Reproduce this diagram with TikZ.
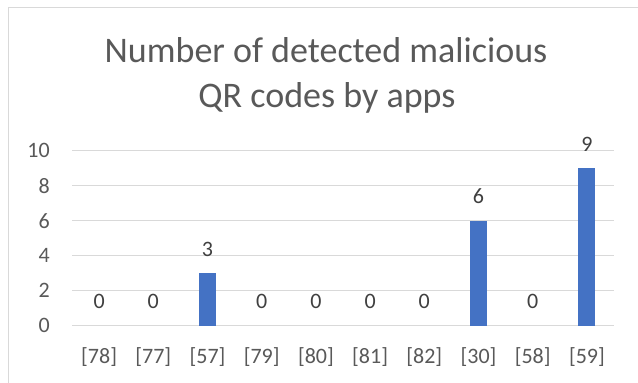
\documentclass[tikz,border=0pt]{standalone}
\usepackage{fontspec}
\setmainfont{Carlito}
\definecolor{gridgray}{HTML}{D9D9D9}
\definecolor{labelgray}{HTML}{595959}
\definecolor{datagray}{HTML}{404040}
\definecolor{barblue}{HTML}{4472C4}
\begin{document}
\begin{tikzpicture}[x=1pt,y=-1pt,
  gridline/.style={draw=gridgray,line width=1.3pt},
  barbox/.style={fill=barblue,draw=none},
  ticklabel/.style={text=labelgray,font=\fontsize{22}{26}\selectfont,inner sep=0pt},
  catlabel/.style={text=labelgray,font=\fontsize{22}{26}\selectfont,inner sep=0pt,anchor=base},
  datalabel/.style={text=datagray,font=\fontsize{22}{26}\selectfont,inner sep=0pt,anchor=base},
  titletext/.style={text=labelgray,font=\fontsize{36}{44.6}\selectfont,inner sep=0pt,anchor=base,align=center}]
\useasboundingbox (0,0) rectangle (638,383);
\clip (0,0) rectangle (638,383);
\fill[white] (0,0) rectangle (638,383);
\draw[gridgray,line width=1.3pt] (8.5,7.5) rectangle (700,450);
% title
\node[titletext] (title1) at (326,62.7) {Number of detected malicious};
\node[titletext] (title2) at (327,107.3) {QR codes by apps};
% gridlines and y ticks
\foreach \v in {0,2,4,6,8,10}{
  \coordinate (gl\v) at (72,{325.7-17.5*\v});
  \coordinate (gr\v) at (614,{325.7-17.5*\v});
  \draw[gridline] (gl\v) -- (gr\v);
  \node[ticklabel,anchor=east] (yt\v) at (50,{325.7-17.5*\v}) {\v};
}
% bars
\foreach \i/\lab/\val in {0/78/0,1/77/0,2/57/3,3/79/0,4/80/0,5/81/0,6/82/0,7/30/6,8/58/0,9/59/9}{
  \pgfmathsetmacro{\cx}{72+54.2*(\i+0.5)}
  \pgfmathsetmacro{\top}{325.7-17.5*\val}
  \ifnum\val>0
    \fill[barblue] ({\cx-8.5},325.7) rectangle ({\cx+8.5},\top);
  \fi
  \node[draw=none,inner sep=0pt,minimum size=0pt] (bar\lab) at (\cx,\top) {};
  \node[datalabel] (val\lab) at ({\cx},{\top-16.8}) {\val};
  \node[catlabel] (cat\lab) at ({\cx},363.5) {[\lab]};
}
\end{tikzpicture}
\end{document}
